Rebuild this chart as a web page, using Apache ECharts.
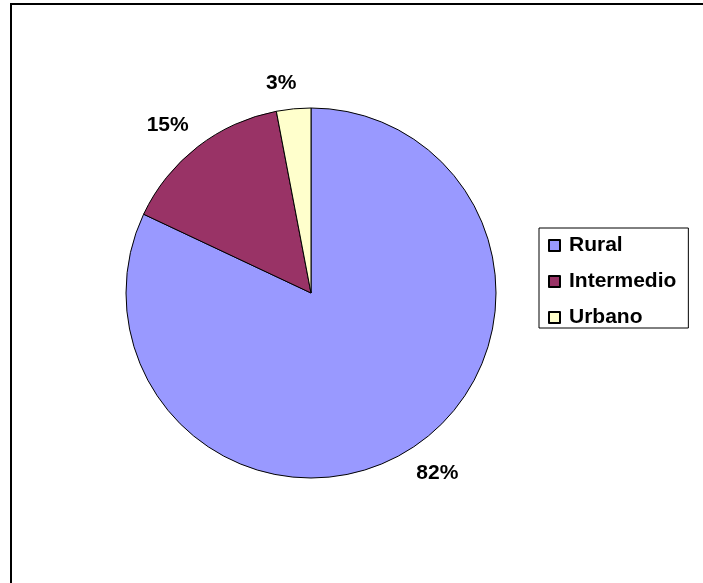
<!DOCTYPE html>
<html>
<head>
<meta charset="utf-8">
<script src="https://cdn.jsdelivr.net/npm/echarts@6/dist/echarts.min.js"></script>
<style>
  html, body { margin: 0; padding: 0; background: #fff; }
  #chart { width: 703px; height: 583px; }
</style>
</head>
<body>
<div id="chart"></div>
<script>
// Share of area by type
const categories = ['Rural', 'Intermedio', 'Urbano'];
const shares = [82, 15, 3];
const colors = ['#9999FF', '#993366', '#FFFFCC'];

const CX = 311, CY = 293, R = 185;
const LABEL_GAP = 14;                   // space between rim and label box
const LABEL_TURN = 2.7 * Math.PI / 180; // small counter-clockwise nudge of labels

// mid angle (radians, math convention) of each slice, clockwise from 12 o'clock
const total = shares.reduce((a, b) => a + b, 0);
const midAngles = [];
let acc = 0;
shares.forEach(v => {
  const mid = acc + v / 2;
  midAngles.push(Math.PI / 2 - (mid / total) * 2 * Math.PI);
  acc += v;
});

const FONT = 'Liberation Sans, Arial, sans-serif';

const chart = echarts.init(document.getElementById('chart'), null, { renderer: 'canvas' });
chart.setOption({
  backgroundColor: '#ffffff',
  animation: false,
  graphic: [{
    type: 'rect',
    shape: { x: 11, y: 4, width: 1000, height: 1000 },
    style: { fill: 'none', stroke: '#000', lineWidth: 2 },
    silent: true
  }],
  legend: {
    orient: 'vertical',
    left: 539,
    top: 228,
    data: categories,
    icon: 'rect',
    itemWidth: 11,
    itemHeight: 11,
    itemGap: 15,
    padding: [7, 12, 0, 9],
    borderColor: '#000',
    borderWidth: 1,
    backgroundColor: '#fff',
    textStyle: {
      fontFamily: FONT,
      fontWeight: 'bold',
      fontSize: 21,
      lineHeight: 20,
      color: '#000',
      padding: [0, 0, 0, 4]
    }
  },
  series: [{
    type: 'pie',
    center: [CX, CY],
    radius: R,
    startAngle: 90,
    clockwise: true,
    data: categories.map((name, i) => ({
      name,
      value: shares[i],
      itemStyle: { color: colors[i] }
    })),
    itemStyle: { borderColor: '#000', borderWidth: 1 },
    emphasis: { disabled: true },
    label: {
      show: true,
      position: 'outside',
      formatter: p => p.value + '%',
      fontFamily: FONT,
      fontWeight: 'bold',
      fontSize: 21,
      color: '#000'
    },
    labelLine: { show: false },
    labelLayout: params => {
      const a = midAngles[params.dataIndex] + LABEL_TURN;
      const dx = Math.cos(a), dy = -Math.sin(a);
      const hw = params.labelRect.width / 2, hh = params.labelRect.height / 2;
      const d = R + LABEL_GAP + Math.abs(dx) * hw + Math.abs(dy) * hh;
      return {
        x: CX + dx * d,
        y: CY + dy * d,
        align: 'center',
        verticalAlign: 'middle'
      };
    }
  }]
});
</script>
</body>
</html>
